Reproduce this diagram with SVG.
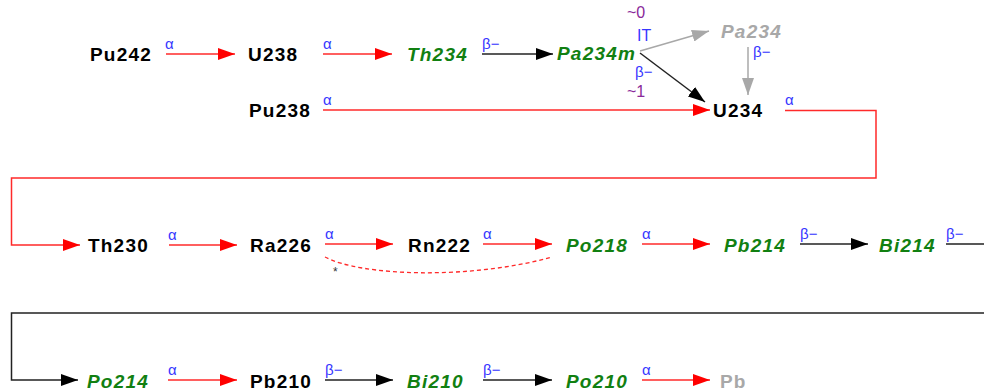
<svg xmlns="http://www.w3.org/2000/svg" width="984" height="392" viewBox="0 0 984 392">
<defs>
<style>
.n{font-family:"Liberation Sans",Arial,sans-serif;font-weight:bold;font-size:19px;letter-spacing:1.2px;fill:#000}
.g{font-style:italic;fill:#118011}
.gr{font-style:italic;fill:#a8a8a8}
.gb{fill:#a8a8a8}
.l{font-family:"Liberation Sans",Arial,sans-serif;font-size:15px;fill:#3636ff}
.p{font-family:"Liberation Sans",Arial,sans-serif;font-size:16px;fill:#8a2a9a}
.r{fill:none;stroke:#ff2a2a;stroke-width:1.5}
.k{fill:none;stroke:#222;stroke-width:1.5}
.y{fill:none;stroke:#a8a8a8;stroke-width:1.5}
</style>
<marker id="ar" viewBox="0 0 17 12" refX="17" refY="6" markerWidth="17" markerHeight="12" markerUnits="userSpaceOnUse" orient="auto"><path d="M0,0 L17,6 L0,12 z" fill="#ff0000"/></marker>
<marker id="ak" viewBox="0 0 17 12" refX="17" refY="6" markerWidth="17" markerHeight="12" markerUnits="userSpaceOnUse" orient="auto"><path d="M0,0 L17,6 L0,12 z" fill="#000"/></marker>
<marker id="ay" viewBox="0 0 17 12" refX="17" refY="6" markerWidth="17" markerHeight="12" markerUnits="userSpaceOnUse" orient="auto"><path d="M0,0 L17,6 L0,12 z" fill="#a8a8a8"/></marker>
</defs>
<rect width="984" height="392" fill="#fff"/>
<g id="connectors">
<path class="r" d="M166,54 H235" marker-end="url(#ar)"/>
<text class="l" x="165" y="49">α</text>
<path class="r" d="M323,54 H392" marker-end="url(#ar)"/>
<text class="l" x="323" y="49">α</text>
<path class="k" d="M482,54 H553" marker-end="url(#ak)"/>
<text class="l" x="482" y="49">β−</text>
<path class="y" d="M640,51 L709,31" marker-end="url(#ay)"/>
<path class="k" d="M640,53 L705,102" marker-end="url(#ak)"/>
<text class="p" x="627" y="18">~0</text>
<text class="l" x="637" y="41" style="font-size:16px">IT</text>
<text class="l" x="635" y="77">β−</text>
<text class="p" x="627" y="97">~1</text>
<path class="y" d="M748,47 V95" marker-end="url(#ay)"/>
<text class="l" x="753" y="57">β−</text>
<path class="r" d="M323,110 H710" marker-end="url(#ar)"/>
<text class="l" x="323" y="105">α</text>
<path class="r" d="M785,110.5 H876 V178 H11.5 V245 H80" marker-end="url(#ar)"/>
<text class="l" x="785" y="105">α</text>
<path class="r" d="M169,245 H237" marker-end="url(#ar)"/>
<text class="l" x="168" y="240">α</text>
<path class="r" d="M325,244 H393" marker-end="url(#ar)"/>
<text class="l" x="325" y="239">α</text>
<path class="r" d="M483,244 H552" marker-end="url(#ar)"/>
<text class="l" x="483" y="239">α</text>
<path class="r" d="M642,244 H710" marker-end="url(#ar)"/>
<text class="l" x="642" y="239">α</text>
<path class="k" d="M800,244 H868" marker-end="url(#ak)"/>
<text class="l" x="800" y="239">β−</text>
<path class="k" d="M946,244 H996 V313 H11.5 V380 H78" marker-end="url(#ak)"/>
<text class="l" x="946" y="239">β−</text>
<path class="r" d="M325,257 C360,276 470,280 552,257" stroke-dasharray="4,3" style="stroke-width:1.3"/>
<text x="333" y="276" style="font-family:'Liberation Sans',Arial,sans-serif;font-size:12px;fill:#333">*</text>
<path class="r" d="M168,380 H237" marker-end="url(#ar)"/>
<text class="l" x="168" y="375">α</text>
<path class="k" d="M325,380 H393" marker-end="url(#ak)"/>
<text class="l" x="325" y="375">β−</text>
<path class="k" d="M483,380 H552" marker-end="url(#ak)"/>
<text class="l" x="483" y="375">β−</text>
<path class="r" d="M642,380 H710" marker-end="url(#ar)"/>
<text class="l" x="642" y="375">α</text>
</g>
<g id="Pu242"><text class="n" x="90" y="61">Pu242</text></g>
<g id="U238"><text class="n" x="248" y="61">U238</text></g>
<g id="Th234"><text class="n g" x="407" y="61">Th234</text></g>
<g id="Pa234m"><text class="n g" x="557" y="60">Pa234m</text></g>
<g id="Pa234"><text class="n gr" x="721" y="38">Pa234</text></g>
<g id="Pu238"><text class="n" x="249" y="117">Pu238</text></g>
<g id="U234"><text class="n" x="713" y="117">U234</text></g>
<g id="Th230"><text class="n" x="88" y="252">Th230</text></g>
<g id="Ra226"><text class="n" x="250" y="252">Ra226</text></g>
<g id="Rn222"><text class="n" x="408" y="252">Rn222</text></g>
<g id="Po218"><text class="n g" x="566" y="252">Po218</text></g>
<g id="Pb214"><text class="n g" x="724" y="252">Pb214</text></g>
<g id="Bi214"><text class="n g" x="879" y="252">Bi214</text></g>
<g id="Po214"><text class="n g" x="87" y="388">Po214</text></g>
<g id="Pb210"><text class="n" x="250" y="388">Pb210</text></g>
<g id="Bi210"><text class="n g" x="407" y="388">Bi210</text></g>
<g id="Po210"><text class="n g" x="566" y="388">Po210</text></g>
<g id="Pb"><text class="n gb" x="720" y="388">Pb</text></g>
</svg>
